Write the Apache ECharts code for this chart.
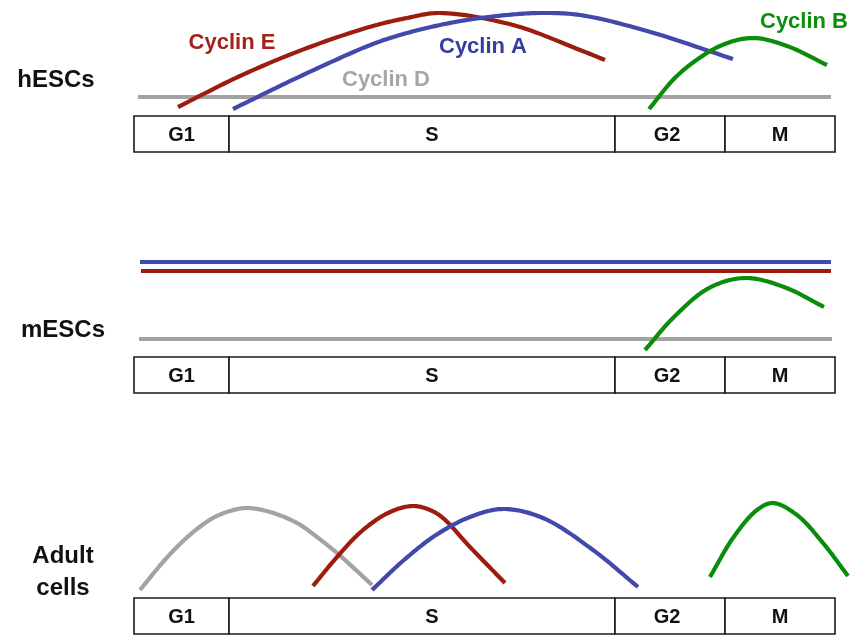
<!DOCTYPE html>
<html>
<head>
<meta charset="utf-8">
<script src="https://cdn.jsdelivr.net/npm/echarts@6/dist/echarts.min.js"></script>
<style>
html,body{margin:0;padding:0;background:#fff;}
#chart{width:854px;height:635px;}
</style>
</head>
<body>
<div id="chart"></div>
<script>
// ---- Data (x = cell-cycle time units, y = relative cyclin level) ----
const phases = ['G1', 'S', 'G2', 'M'];
const phaseBounds = [0, 95, 481, 591, 701];
const panelNames = ['hESCs', 'mESCs', 'Adult\ncells'];
const cyclinNames = ['Cyclin D', 'Cyclin E', 'Cyclin A', 'Cyclin B'];

// hESCs
const hescCyclinD = [[4, 19], [697, 19]];
const hescCyclinE = [[44, 9], [106, 40], [173, 68], [239, 90], [273, 98], [306, 103], [379, 91], [446, 66], [471, 56]];
const hescCyclinA = [[99, 7], [169, 41], [239, 72], [273, 83], [306, 91], [339, 97], [373, 101], [406, 103], [446, 101], [513, 85], [599, 57]];
const hescCyclinB = [[515, 7], [545, 42], [586, 70], [619, 78], [653, 70], [693, 51]];

// mESCs
const mescCyclinD = [[5, 18], [698, 18]];
const mescCyclinE = [[7, 86], [697, 86]];
const mescCyclinA = [[6, 95], [697, 95]];
const mescCyclinB = [[511, 7], [540, 40], [575, 69], [611, 79], [650, 70], [690, 50]];

// Adult cells
const adultCyclinD = [[6, 8], [29, 36], [46, 54], [63, 69], [79, 80], [96, 87], [113, 90], [136, 86], [163, 75], [183, 61], [203, 45], [223, 27], [238, 13]];
const adultCyclinE = [[179, 12], [203, 41], [229, 68], [256, 86], [279, 92], [296, 88], [309, 80], [336, 51], [371, 15]];
const adultCyclinA = [[238, 8], [270, 38], [302, 63], [336, 81], [369, 89], [409, 80], [459, 48], [504, 11]];
const adultCyclinB = [[576, 21], [599, 60], [623, 88], [639, 95], [663, 83], [689, 55], [714, 22]];

// ---- Styles ----
const colors = {
  'Cyclin D': '#a3a3a3',
  'Cyclin E': '#9c1c10',
  'Cyclin A': '#4349aa',
  'Cyclin B': '#0b8c0b'
};
const labelColors = {
  'Cyclin D': '#a6a6a6',
  'Cyclin E': '#a2231a',
  'Cyclin A': '#343da2',
  'Cyclin B': '#0e8e0e'
};
const FONT = '"Liberation Sans", Arial, sans-serif';

const panels = [
  { top: 0, height: 152, yMax: 116, curves: [hescCyclinD, hescCyclinE, hescCyclinA, hescCyclinB] },
  { top: 239, height: 154, yMax: 118, curves: [mescCyclinD, mescCyclinE, mescCyclinA, mescCyclinB] },
  { top: 480, height: 154, yMax: 118, curves: [adultCyclinD, adultCyclinE, adultCyclinA, adultCyclinB] }
];
const BOX_DEPTH = 36;
const labelShift = { 'G1': 0, 'S': 10, 'G2': -3, 'M': 0 };

// centripetal Catmull-Rom through pixel points (drawing helper)
function splinePoints(pts, steps) {
  const n = pts.length;
  if (n < 3) return pts;
  const out = [pts[0]];
  const dist = (a, b) => Math.max(1e-6, Math.pow(Math.hypot(b[0] - a[0], b[1] - a[1]), 0.5));
  for (let i = 0; i < n - 1; i++) {
    const p1 = pts[i], p2 = pts[i + 1];
    const p0 = i > 0 ? pts[i - 1] : [2 * p1[0] - p2[0], 2 * p1[1] - p2[1]];
    const p3 = i + 2 < n ? pts[i + 2] : [2 * p2[0] - p1[0], 2 * p2[1] - p1[1]];
    const d1 = dist(p0, p1), d2 = dist(p1, p2), d3 = dist(p2, p3);
    const b1 = [0, 1].map(k => (d1 * d1 * p2[k] - d2 * d2 * p0[k] + (2 * d1 * d1 + 3 * d1 * d2 + d2 * d2) * p1[k]) / (3 * d1 * (d1 + d2)));
    const b2 = [0, 1].map(k => (d3 * d3 * p1[k] - d2 * d2 * p3[k] + (2 * d3 * d3 + 3 * d3 * d2 + d2 * d2) * p2[k]) / (3 * d3 * (d3 + d2)));
    for (let s = 1; s <= steps; s++) {
      const t = s / steps, u = 1 - t;
      out.push([0, 1].map(k => u * u * u * p1[k] + 3 * u * u * t * b1[k] + 3 * u * t * t * b2[k] + t * t * t * p2[k]));
    }
  }
  return out;
}

const grid = [], xAxis = [], yAxis = [], series = [];
const phaseData = phases.map((p, i) => [phaseBounds[i], phaseBounds[i + 1], p]);

panels.forEach((pn, k) => {
  grid.push({ left: 134, width: 720, top: pn.top, height: pn.height });
  xAxis.push({ gridIndex: k, type: 'value', min: 0, max: 720, show: false });
  yAxis.push({ gridIndex: k, type: 'value', min: -BOX_DEPTH, max: pn.yMax, show: false });
  // phase boxes
  series.push({
    type: 'custom',
    xAxisIndex: k, yAxisIndex: k,
    data: phaseData,
    silent: true,
    z: 1,
    renderItem: function (params, api) {
      const a = api.coord([api.value(0), 0]);
      const b = api.coord([api.value(1), -BOX_DEPTH]);
      const name = phaseData[params.dataIndex][2];
      return {
        type: 'group',
        children: [
          {
            type: 'rect',
            shape: { x: a[0], y: a[1], width: b[0] - a[0], height: b[1] - a[1] },
            style: { fill: '#fff', stroke: '#1a1a1a', lineWidth: 1.6 }
          },
          {
            type: 'text',
            x: (a[0] + b[0]) / 2 + labelShift[name],
            y: (a[1] + b[1]) / 2 + 1,
            style: {
              text: name, fill: '#111', font: 'bold 20px ' + FONT,
              textAlign: 'center', textVerticalAlign: 'middle'
            }
          }
        ]
      };
    }
  });
  pn.curves.forEach((data, j) => {
    const name = cyclinNames[j];
    series.push({
      name: name,
      type: 'custom',
      xAxisIndex: k, yAxisIndex: k,
      data: data,
      silent: true,
      clip: false,
      z: 2 + j,
      renderItem: function (params, api) {
        if (params.dataIndex !== 0) return null;
        const px = data.map(d => api.coord(d));
        return {
          type: 'polyline',
          shape: { points: splinePoints(px, 16) },
          style: { stroke: colors[name], lineWidth: 4.2, fill: null, lineJoin: 'round' }
        };
      }
    });
  });
});

const chart = echarts.init(document.getElementById('chart'), null, { renderer: 'canvas' });
chart.setOption({
  animation: false,
  backgroundColor: '#fff',
  grid: grid,
  xAxis: xAxis,
  yAxis: yAxis,
  series: series,
  graphic: [
    { type: 'text', x: 56, y: 80, silent: true, style: { text: panelNames[0], fill: '#111', font: 'bold 24px ' + FONT, textAlign: 'center', textVerticalAlign: 'middle' } },
    { type: 'text', x: 63, y: 330, silent: true, style: { text: panelNames[1], fill: '#111', font: 'bold 24px ' + FONT, textAlign: 'center', textVerticalAlign: 'middle' } },
    { type: 'text', x: 63, y: 572, silent: true, style: { text: panelNames[2], fill: '#111', font: 'bold 24px ' + FONT, textAlign: 'center', textVerticalAlign: 'middle', lineHeight: 32 } },
    { type: 'text', x: 232, y: 43, silent: true, style: { text: cyclinNames[1], fill: labelColors['Cyclin E'], font: 'bold 22px ' + FONT, textAlign: 'center', textVerticalAlign: 'middle' } },
    { type: 'text', x: 483, y: 47, silent: true, style: { text: cyclinNames[2], fill: labelColors['Cyclin A'], font: 'bold 22px ' + FONT, textAlign: 'center', textVerticalAlign: 'middle' } },
    { type: 'text', x: 386, y: 80, silent: true, style: { text: cyclinNames[0], fill: labelColors['Cyclin D'], font: 'bold 22px ' + FONT, textAlign: 'center', textVerticalAlign: 'middle' } },
    { type: 'text', x: 804, y: 22, silent: true, style: { text: cyclinNames[3], fill: labelColors['Cyclin B'], font: 'bold 22px ' + FONT, textAlign: 'center', textVerticalAlign: 'middle' } }
  ]
});
</script>
</body>
</html>
